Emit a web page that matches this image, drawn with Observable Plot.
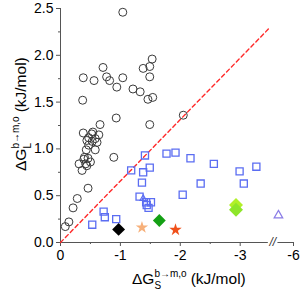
<!DOCTYPE html>
<html>
<head>
<meta charset="utf-8">
<script src="https://cdn.jsdelivr.net/npm/d3@7"></script>
<script src="https://cdn.jsdelivr.net/npm/@observablehq/plot@0.6"></script>
<style>
  html, body { margin: 0; padding: 0; background: #fff; }
  svg { display: block; }
</style>
</head>
<body>
<script>
// ---- data (real ΔG values, kJ/mol) ----
const circleX = [-1.04,-0.71,-0.38,-0.56,-0.77,-0.82,-1.04,-0.94,-1.21,-1.33,
                 -0.37,-0.93,-0.66,-0.38,-0.54,-0.52,-0.64,-0.47,-0.58,-0.44,
                 -0.53,-0.61,-0.47,-0.58,-0.43,-0.40,-0.39,-0.46,-0.50,-0.31,
                 -0.42,-0.44,-0.36,-0.89,-0.46,-0.28,-0.21,-0.14,-0.08,
                 -1.53,-1.38,-1.49,-1.49,-1.46,-1.54,-1.49,-2.05];
const circleY = [2.46,1.87,1.76,1.73,1.77,1.73,1.76,1.66,1.64,1.61,
                 1.52,1.33,1.26,1.17,1.18,1.16,1.15,1.12,1.11,1.09,
                 1.08,1.07,1.04,0.99,0.99,0.91,0.89,0.90,0.86,0.84,
                 0.84,0.82,0.77,0.91,0.58,0.47,0.37,0.22,0.17,
                 1.96,1.86,1.88,1.77,1.53,1.55,1.26,1.36];
const squareX = [-1.41,-1.77,-1.92,-1.18,-1.49,-1.38,-1.36,-2.04,-1.32,-1.43,-1.51,-1.44,-1.47,
                 -0.72,-0.74,-0.93,-0.53,
                 -2.17,-2.56,-2.99,-3.27,-2.34,-3.06];
const squareY = [0.93,0.95,0.96,0.77,0.80,0.75,0.64,0.51,0.49,0.43,0.43,0.40,0.37,
                 0.33,0.27,0.25,0.19,
                 0.90,0.84,0.76,0.81,0.63,0.63];
const smallTriX = [-1.38], smallTriY = [0.47];
const blackDiamondX = [-0.97], blackDiamondY = [0.14];
const orangeStarX = [-1.36], orangeStarY = [0.16];
const greenDiamondX = [-1.65], greenDiamondY = [0.235];
const redStarX = [-1.92], redStarY = [0.135];
const limeDiamondX = [-2.93, -2.93], limeDiamondY = [0.40, 0.35];
const openTriX = [-5.26], openTriY = [0.29];
const diagX = [0, -3.47], diagY = [0, 2.28];

const yTicks = [0, 0.5, 1.0, 1.5, 2.0, 2.5];
const yMinor = [0.25, 0.75, 1.25, 1.75, 2.25];
const xTickValues = [0, -1, -2, -3, -6];
const xTickLabels = ["0", "-1", "-2", "-3", "-6"];
const xMinorValues = [-0.5, -1.5, -2.5];

// broken x axis: 0..-3.5 linear, break, then -5..-6 compressed
const pos = v => v >= -3.5 ? -v : 3.55 + (-v - 5) * 0.34;
const xMax = pos(-6);
const idx = a => d3.range(a.length);

const pts = (X, Y, opts) => Plot.dot(idx(X), {x: i => pos(X[i]), y: i => Y[i], ...opts});

const chart = Plot.plot({
  width: 302, height: 291,
  marginLeft: 60, marginRight: 9, marginTop: 8, marginBottom: 49,
  x: {domain: [0, xMax]},
  y: {domain: [0, 2.5]},
  style: {fontFamily: "'Liberation Sans', Arial, sans-serif", fontSize: "14px", color: "#000", background: "#fff"},
  marks: [
    Plot.axisY({ticks: yTicks, tickFormat: d3.format(".1f"), tickSize: 4, tickPadding: 3, fontSize: 14, label: null, stroke: "#555"}),
    Plot.axisY({ticks: yMinor, tickSize: 2, text: null, label: null, stroke: "#555"}),
    Plot.axisX({ticks: xTickValues.map(pos), tickFormat: d => xTickLabels[xTickValues.map(pos).indexOf(d)], tickSize: 4, tickPadding: 4, fontSize: 14, label: null, stroke: "#555"}),
    Plot.axisX({ticks: xMinorValues.map(pos), tickSize: 2, text: null, label: null, stroke: "#555"}),
    Plot.ruleX([0], {y1: 0, y2: 2.5, stroke: "#555"}),
    Plot.ruleY([0], {x1: 0, x2: pos(-3.5) - 0.03, stroke: "#555"}),
    Plot.ruleY([0], {x1: pos(-5) + 0.08, x2: xMax, stroke: "#555"}),
    Plot.text(["//"], {x: (pos(-3.5) + pos(-5)) / 2 + 0.02, y: 0, fontSize: 12, fontStyle: "italic", fill: "#333", dy: 0}),
    Plot.line(idx(diagX), {x: i => pos(diagX[i]), y: i => diagY[i], stroke: "#ff2a2a", strokeWidth: 1.4, strokeDasharray: "4,3"}),
    pts(circleX, circleY, {r: 4, stroke: "#3a3a3a", fill: "none", strokeWidth: 1}),
    pts(squareX, squareY, {symbol: "square", r: 4, stroke: "#5b6df2", fill: "none", strokeWidth: 1.3}),
    pts(smallTriX, smallTriY, {symbol: "triangle2", r: 3, stroke: "#5b6df2", fill: "none", strokeWidth: 1.2}),
    pts(blackDiamondX, blackDiamondY, {symbol: "diamond2", r: 5.8, fill: "#000", stroke: "none"}),
    pts(orangeStarX, orangeStarY, {symbol: "star", r: 3.9, fill: "#f7b07a", stroke: "none"}),
    pts(greenDiamondX, greenDiamondY, {symbol: "diamond2", r: 5.8, fill: "#14a014", stroke: "none"}),
    pts(redStarX, redStarY, {symbol: "star", r: 3.9, fill: "#f0501a", stroke: "none"}),
    Plot.dot(idx(limeDiamondX), {x: i => pos(limeDiamondX[i]), y: i => limeDiamondY[i], symbol: "diamond2", r: 6.3, fill: i => i === 0 ? "#b2f028" : "#8ee62a", stroke: "none"}),
    pts(openTriX, openTriY, {symbol: "triangle2", r: 4.1, stroke: "#8a7ce6", fill: "none", strokeWidth: 1.2})
  ]
});
document.body.append(chart);

// axis titles with stacked sub/superscripts
function addTitle(svg, x, y, rotate, sub) {
  const t = d3.select(svg).append("text")
    .attr("transform", `translate(${x},${y}) rotate(${rotate})`)
    .attr("text-anchor", "start")
    .attr("font-family", "'Liberation Sans', Arial, sans-serif")
    .attr("font-size", 15.5).attr("fill", "#000");
  t.append("tspan").text("ΔG");
  const sup = t.append("tspan").attr("font-size", 10).attr("dy", -7).text("b→m,o");
  const supW = sup.node().getComputedTextLength();
  const sb = t.append("tspan").attr("font-size", 10).attr("dx", -supW).attr("dy", 12).text(sub);
  const subW = sb.node().getComputedTextLength();
  t.append("tspan").attr("font-size", 15.5).attr("dx", supW - subW + 4).attr("dy", -5).text("(kJ/mol)");
}
addTitle(chart, 132, 284, 0, "S");
addTitle(chart, 26, 171, -90, "L");
</script>
</body>
</html>
